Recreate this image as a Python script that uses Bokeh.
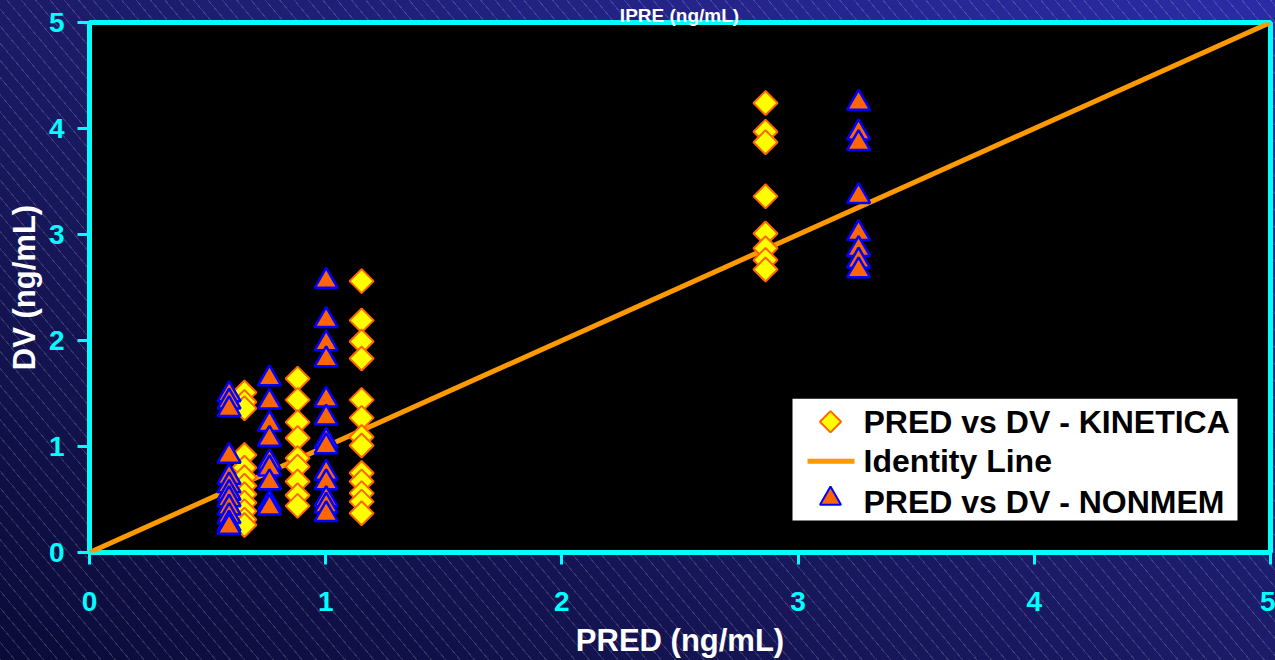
import math
from bokeh.plotting import figure
from bokeh.models import Range1d, Label, ColumnDataSource, FixedTicker
from bokeh.embed import file_html
from bokeh.resources import INLINE

# ---------------- data ----------------
tick_values = [0, 1, 2, 3, 4, 5]

# PRED (x) of each dose cluster
kinetica_pred = [0.656, 0.881, 1.152, 2.862]
nonmem_pred = [0.591, 0.762, 1.002, 3.256]

# DV (y) values of each cluster
kinetica_dv_1 = [1.51, 1.42, 1.36, 0.92, 0.80, 0.71, 0.63, 0.55, 0.47, 0.39, 0.31, 0.26]
kinetica_dv_2 = [1.64, 1.44, 1.23, 1.08, 0.89, 0.81, 0.67, 0.54, 0.44]
kinetica_dv_3 = [2.56, 2.19, 1.99, 1.83, 1.44, 1.27, 1.09, 1.01, 0.75, 0.67, 0.56, 0.48, 0.37]
kinetica_dv_4 = [4.24, 3.97, 3.87, 3.36, 3.01, 2.87, 2.76, 2.67]

nonmem_dv_1 = [1.49, 1.42, 1.35, 0.91, 0.71, 0.63, 0.56, 0.50, 0.42, 0.34, 0.27, 0.24]
nonmem_dv_2 = [1.64, 1.42, 1.21, 1.07, 0.85, 0.79, 0.66, 0.46, 0.42]
nonmem_dv_3 = [2.56, 2.19, 1.97, 1.82, 1.44, 1.27, 1.05, 1.00, 0.75, 0.66, 0.50, 0.44, 0.36]
nonmem_dv_4 = [4.24, 3.96, 3.86, 3.36, 3.01, 2.86, 2.75, 2.66]

identity_x = [0, 5]
identity_y = [0, 5]

title_text = "IPRE (ng/mL)"
x_label = "PRED (ng/mL)"
y_label = "DV (ng/mL)"
legend_labels = ["PRED vs DV - KINETICA", "Identity Line", "PRED vs DV - NONMEM"]

# ---------------- layout (pixels) ----------------
W, H = 1275, 660
LEFT, RIGHT, TOP, BOTTOM = 89, 5, 22, 107
FRAME_W = W - LEFT - RIGHT
FRAME_H = H - TOP - BOTTOM
X0, X1, Y0, Y1 = 0, 5, 0, 5


def px_to_x(px):
    return X0 + (px - LEFT) * (X1 - X0) / FRAME_W


def py_to_y(py):
    return Y0 + (H - BOTTOM - py) * (Y1 - Y0) / FRAME_H


# ---------------- assemble sources ----------------
def build(preds, groups):
    xs, ys = [], []
    for px, g in zip(preds, groups):
        for v in g:
            xs.append(px)
            ys.append(v)
    return ColumnDataSource(dict(x=xs, y=ys))


kin_src = build(kinetica_pred, [kinetica_dv_1, kinetica_dv_2, kinetica_dv_3, kinetica_dv_4])
non_src = build(nonmem_pred, [nonmem_dv_1, nonmem_dv_2, nonmem_dv_3, nonmem_dv_4])

FONT = "Liberation Sans"
CYAN = "#00FFFF"
KIN_FILL, KIN_LINE = "#FFFF00", "#FF6600"
NON_FILL, NON_LINE = "#FF6600", "#0000FF"
ID_COLOR = "#FF9900"

p = figure(width=W, height=H,
           x_range=Range1d(X0, X1), y_range=Range1d(Y0, Y1),
           output_backend="svg", toolbar_location=None,
           min_border_left=LEFT, min_border_right=RIGHT,
           min_border_top=TOP, min_border_bottom=BOTTOM)

p.border_fill_color = None
p.background_fill_color = "black"
p.outline_line_color = CYAN
p.outline_line_width = 5
p.styles = {
    "background-color": "#1a1a66",
    "background-image": (
        "repeating-linear-gradient(50deg, rgba(255,255,255,0.15) 0px, rgba(255,255,255,0.15) 1px, "
        "rgba(255,255,255,0) 1px, rgba(255,255,255,0) 11px), "
        "linear-gradient(to top right, #0b0b38, #1b1b68 50%, #2b2ba6)"
    ),
}

p.xgrid.grid_line_color = None
p.ygrid.grid_line_color = None

for ax in (p.xaxis[0], p.yaxis[0]):
    ax.ticker = FixedTicker(ticks=tick_values)
    ax.minor_tick_line_color = None
    ax.axis_line_color = None
    ax.major_tick_line_color = CYAN
    ax.major_tick_line_width = 3
    ax.major_tick_in = 0
    ax.major_tick_out = 12
    ax.major_label_text_color = CYAN
    ax.major_label_text_font = FONT
    ax.major_label_text_font_style = "bold"
    ax.major_label_text_font_size = "28px"
    ax.axis_label_text_color = "white"
    ax.axis_label_text_font = FONT
    ax.axis_label_text_font_style = "bold"
    ax.axis_label_text_font_size = "31px"

p.xaxis[0].major_label_standoff = 27
p.xaxis[0].axis_label = x_label
p.xaxis[0].axis_label_standoff = 9
p.yaxis[0].major_label_standoff = 13
p.yaxis[0].axis_label = y_label
p.yaxis[0].axis_label_standoff = 4

# identity line, then markers
p.line(identity_x, identity_y, line_color=ID_COLOR, line_width=5)
p.scatter("x", "y", source=kin_src, marker="square", angle=math.pi / 4, size=17,
          fill_color=KIN_FILL, line_color=KIN_LINE, line_width=2)
p.scatter("x", "y", source=non_src, marker="triangle", size=23,
          fill_color=NON_FILL, line_color=NON_LINE, line_width=2.5)

# slide title at the very top edge (kept small so the top border stays 22 px)
p.add_layout(Label(x=px_to_x(679), y=py_to_y(15), text=title_text, text_align="center",
                   text_baseline="alphabetic", text_color="white", text_font=FONT,
                   text_font_style="bold", text_font_size="19px"), "above")

# ---------------- legend box (drawn by hand, inside the frame) ----------------
LEG_L, LEG_R, LEG_T, LEG_B = 792, 1237, 399, 521
ROW_Y = [422, 461.5, 502]
SW_X, LINE_L, LINE_R, TEXT_X = 830, 807, 854, 863

p.quad(left=[px_to_x(LEG_L)], right=[px_to_x(LEG_R)], top=[py_to_y(LEG_T)], bottom=[py_to_y(LEG_B)],
       fill_color="white", line_color=None)
p.scatter([px_to_x(SW_X)], [py_to_y(ROW_Y[0])], marker="square", angle=math.pi / 4, size=15,
          fill_color=KIN_FILL, line_color=KIN_LINE, line_width=2)
p.line([px_to_x(LINE_L), px_to_x(LINE_R)], [py_to_y(ROW_Y[1])] * 2, line_color=ID_COLOR, line_width=5)
p.scatter([px_to_x(SW_X)], [py_to_y(ROW_Y[2] - 3)], marker="triangle", size=21,
          fill_color=NON_FILL, line_color=NON_LINE, line_width=2)
for lbl, ry in zip(legend_labels, ROW_Y):
    p.add_layout(Label(x=px_to_x(TEXT_X), y=py_to_y(ry), text=lbl, text_align="left",
                       text_baseline="middle", text_color="black", text_font=FONT,
                       text_font_style="bold", text_font_size="32px"))

open("out.html", "w").write(file_html(p, INLINE))
